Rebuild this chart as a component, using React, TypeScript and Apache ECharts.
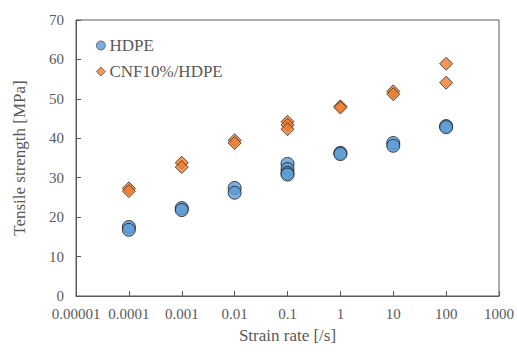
import React, { useEffect, useRef } from "react";
import * as echarts from "echarts";

const hdpeRates = [0.0001, 0.0001, 0.001, 0.001, 0.01, 0.01, 0.1, 0.1, 0.1, 0.1, 1, 1, 10, 10, 100, 100];
const hdpeValues = [17.5, 16.8, 22.3, 21.8, 27.4, 26.2, 33.5, 32.2, 31.2, 30.8, 36.3, 36.0, 38.8, 38.1, 43.1, 42.8];

const cnfRates = [0.0001, 0.0001, 0.001, 0.001, 0.01, 0.01, 0.1, 0.1, 0.1, 1, 1, 10, 10, 100, 100];
const cnfValues = [27.3, 26.6, 33.8, 32.7, 39.5, 38.8, 44.2, 43.4, 42.3, 48.1, 47.8, 51.9, 51.2, 58.9, 54.1];

const seriesNames = ["HDPE", "CNF10%/HDPE"];
const xTitle = "Strain rate [/s]";
const yTitle = "Tensile strength [MPa]";

const FONT = "Liberation Serif";
const GRAY = "#595959";

function fmtX(v: number): string {
  const n = Math.round(Math.log10(v));
  if (n < 0) return Math.pow(10, n).toFixed(-n);
  return String(Math.round(Math.pow(10, n)));
}

export default function App() {
  const ref = useRef<HTMLDivElement>(null);
  useEffect(() => {
    if (!ref.current) return;
    const chart = echarts.init(ref.current, undefined, { renderer: "svg" });
    chart.setOption({
      animation: false,
      backgroundColor: "#ffffff",
      textStyle: { fontFamily: FONT },
      grid: {
        left: 76,
        right: 15,
        top: 20,
        bottom: 56,
        show: true,
        borderColor: GRAY,
        borderWidth: 1,
      },
      legend: {
        orient: "vertical",
        left: 91,
        top: 32,
        itemWidth: 9,
        itemHeight: 9,
        itemGap: 9,
        itemStyle: { borderColor: "#333", borderWidth: 0.8 },
        textStyle: { fontFamily: FONT, fontSize: 17, color: GRAY, padding: [0, 0, 0, -1] },
        data: seriesNames,
      },
      xAxis: {
        type: "log",
        logBase: 10,
        min: 0.00001,
        max: 1000,
        name: xTitle,
        nameLocation: "middle",
        nameGap: 31,
        nameTextStyle: { fontFamily: FONT, fontSize: 17, color: GRAY },
        axisLine: { show: true, lineStyle: { color: GRAY, width: 1 } },
        axisTick: { show: true, inside: true, length: 5, lineStyle: { color: GRAY } },
        axisLabel: { fontFamily: FONT, fontSize: 15, color: GRAY, margin: 10, formatter: fmtX },
        splitLine: { show: false },
        minorTick: { show: false },
      },
      yAxis: {
        type: "value",
        min: 0,
        max: 70,
        interval: 10,
        name: yTitle,
        nameLocation: "middle",
        nameGap: 48,
        nameTextStyle: { fontFamily: FONT, fontSize: 17, color: GRAY },
        axisLine: { show: true, lineStyle: { color: GRAY, width: 1 } },
        axisTick: { show: true, inside: true, length: 5, lineStyle: { color: GRAY } },
        axisLabel: { fontFamily: FONT, fontSize: 15, color: GRAY, margin: 12 },
        splitLine: { show: false },
      },
      series: [
        {
          name: seriesNames[0],
          type: "scatter",
          symbol: "circle",
          symbolSize: 13,
          itemStyle: { color: "#5B9BD5", borderColor: "#1a1a1a", borderWidth: 1 },
          data: hdpeRates.map((r, i) => [r, hdpeValues[i]]),
        },
        {
          name: seriesNames[1],
          type: "scatter",
          symbol: "diamond",
          symbolSize: [13, 13],
          itemStyle: { color: "#ED7D31", borderColor: "#3a2a1a", borderWidth: 1 },
          data: cnfRates.map((r, i) => [r, cnfValues[i]]),
        },
      ],
    });
    return () => chart.dispose();
  }, []);
  return (
    <div
      ref={ref}
      style={{ position: "fixed", left: 0, top: 0, width: 517, height: 352 }}
    />
  );
}
